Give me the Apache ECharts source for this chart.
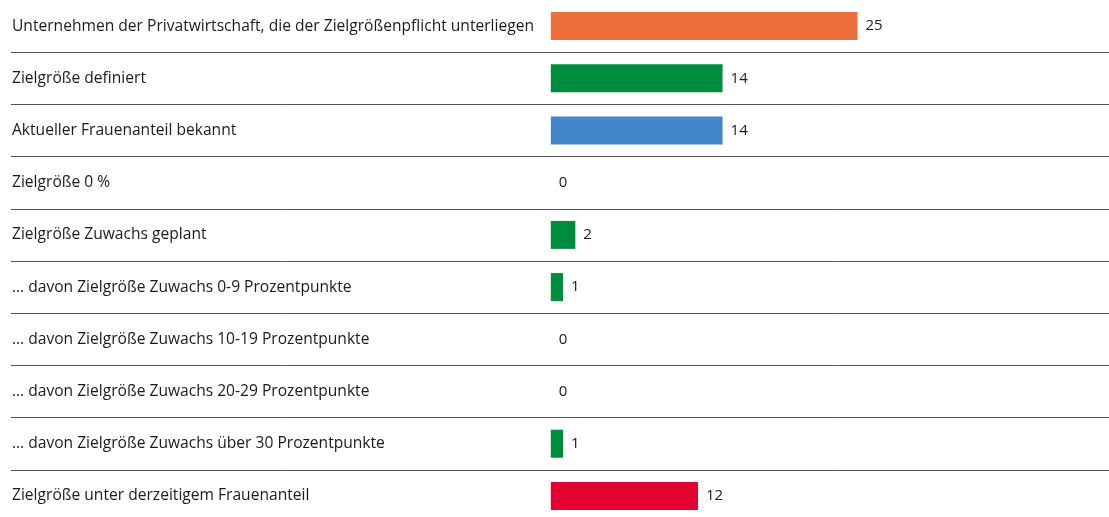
<!DOCTYPE html>
<html>
<head>
<meta charset="utf-8">
<script src="https://cdn.jsdelivr.net/npm/echarts@6/dist/echarts.min.js"></script>
<style>
html,body{margin:0;padding:0;background:#fff;}
#c{width:1109px;height:517px;}
</style>
</head>
<body>
<div id="c"></div>
<script>
const categories = [
  "Unternehmen der Privatwirtschaft, die der Zielgrößenpflicht unterliegen",
  "Zielgröße definiert",
  "Aktueller Frauenanteil bekannt",
  "Zielgröße 0 %",
  "Zielgröße Zuwachs geplant",
  "… davon Zielgröße Zuwachs 0-9 Prozentpunkte",
  "… davon Zielgröße Zuwachs 10-19 Prozentpunkte",
  "… davon Zielgröße Zuwachs 20-29 Prozentpunkte",
  "… davon Zielgröße Zuwachs über 30 Prozentpunkte",
  "Zielgröße unter derzeitigem Frauenanteil"
];
const values = [25, 14, 14, 0, 2, 1, 0, 0, 1, 12];
const barColors = ["#ED6D3B", "#008C3E", "#4287C8", "#008C3E", "#008C3E", "#008C3E", "#008C3E", "#008C3E", "#008C3E", "#E4032E"];

const FONT = "Open Sans";
const chart = echarts.init(document.getElementById('c'), null, {renderer: 'canvas'});
chart.setOption({
  animation: false,
  backgroundColor: '#fff',
  grid: {left: 11, right: 0, top: 0, height: 522, containLabel: false, outerBoundsMode: 'none'},
  xAxis: {type: 'value', min: -44, max: 45.5, show: false},
  yAxis: {
    type: 'category',
    data: categories,
    inverse: true,
    axisLine: {show: false, onZero: false},
    axisTick: {show: false},
    axisLabel: {inside: true, margin: 1, fontSize: 15.6, fontFamily: FONT, color: '#1a1a1a', verticalAlign: 'middle', padding: [0, 0, 4, 0]},
    splitLine: {show: true, showMinLine: false, lineStyle: {color: '#555', width: 1}}
  },
  series: [{
    type: 'bar',
    barWidth: 28,
    data: values.map((v, i) => ({value: v, itemStyle: {color: barColors[i]}})),
    label: {show: true, position: 'right', distance: 8, fontSize: 15, fontFamily: FONT, color: '#1a1a1a'}
  }]
});
</script>
</body>
</html>
